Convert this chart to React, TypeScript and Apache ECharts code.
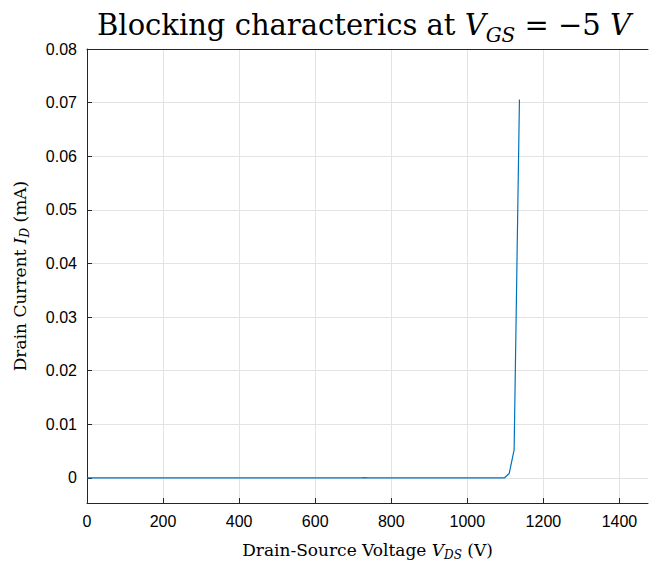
import React, { useEffect, useRef } from "react";
import * as echarts from "echarts";

const vds = [0, 100, 200, 300, 400, 500, 600, 700, 720, 730, 740, 800, 900, 1000, 1098, 1110, 1123, 1137];
const idCurrent = [0, 0, 0, 0, 0, 0, 0, 0, 0, 0.00005, 0, 0, 0, 0, 0, 0.0008, 0.0052, 0.0706];
const xTicks = [0, 200, 400, 600, 800, 1000, 1200, 1400];
const yTicks = [0, 0.01, 0.02, 0.03, 0.04, 0.05, 0.06, 0.07, 0.08];

const serif = "'DejaVu Serif', 'Liberation Serif', serif";
const sans = "'Liberation Sans', Arial, sans-serif";

export default function App() {
  const ref = useRef<HTMLDivElement>(null);
  useEffect(() => {
    if (!ref.current) return;
    const chart = echarts.init(ref.current, null, { renderer: "svg" });
    chart.setOption({
      animation: false,
      backgroundColor: "#ffffff",
      title: {
        text: "Blocking characterics at {i|V}{sub|GS}{n| = −5 }{i|V}",
        left: 359,
        textAlign: "center",
        top: 0,
        textStyle: {
          fontFamily: serif,
          fontSize: 29,
          fontWeight: "normal",
          color: "#000",
          lineHeight: 40,
          rich: {
            i: { fontFamily: serif, fontSize: 29, fontStyle: "italic", color: "#000", lineHeight: 40 },
            sub: { fontFamily: serif, fontSize: 20, fontStyle: "italic", color: "#000", verticalAlign: "bottom", lineHeight: 40 },
            n: { fontFamily: serif, fontSize: 29, color: "#000", lineHeight: 40 },
          },
        },
      },
      grid: { left: 87, right: 1, top: 49, bottom: 60, containLabel: false, outerBoundsMode: "none" },
      xAxis: [
        {
          type: "value",
          min: 0,
          max: 1475,
          axisLine: { show: true, onZero: false, lineStyle: { color: "#262626", width: 1 } },
          axisTick: { show: true, inside: true, length: 5, lineStyle: { color: "#262626" }, customValues: xTicks },
          axisLabel: {
            fontFamily: sans,
            fontSize: 16,
            color: "#000",
            margin: 10,
            customValues: xTicks,
            formatter: (v: number) => String(v),
          },
          splitLine: { show: true, lineStyle: { color: "#e3e3e3", width: 1 } },
          name: "Drain-Source Voltage {i|V}{sub|DS} (V)",
          nameLocation: "middle",
          nameGap: 36,
          nameTextStyle: {
            fontFamily: serif,
            fontSize: 17,
            color: "#000",
            lineHeight: 22,
            rich: {
              i: { fontFamily: serif, fontSize: 17, fontStyle: "italic", color: "#000", lineHeight: 22 },
              sub: { fontFamily: serif, fontSize: 12, fontStyle: "italic", color: "#000", verticalAlign: "bottom", lineHeight: 22 },
            },
          },
        },
        {
          type: "value",
          position: "top",
          min: 0,
          max: 1475,
          axisLine: { show: true, onZero: false, lineStyle: { color: "#262626", width: 1 } },
          axisTick: { show: false },
          axisLabel: { show: false },
          splitLine: { show: false },
        },
      ],
      yAxis: {
        type: "value",
        min: -0.0047,
        max: 0.08,
        axisLine: { show: true, onZero: false, lineStyle: { color: "#262626", width: 1 } },
        axisTick: { show: true, inside: true, length: 5, lineStyle: { color: "#262626" }, customValues: yTicks },
        axisLabel: {
          fontFamily: sans,
          fontSize: 16,
          color: "#000",
          margin: 10,
          customValues: yTicks,
          formatter: (v: number) => (Math.abs(v) < 1e-9 ? "0" : v.toFixed(2)),
        },
        splitLine: { show: true, lineStyle: { color: "#e3e3e3", width: 1 } },
        name: "Drain Current {i|I}{sub|D} (mA)",
        nameLocation: "middle",
        nameGap: 56,
        nameRotate: 90,
        nameTextStyle: {
          fontFamily: serif,
          fontSize: 17,
          color: "#000",
          lineHeight: 22,
          rich: {
            i: { fontFamily: serif, fontSize: 17, fontStyle: "italic", color: "#000", lineHeight: 22 },
            sub: { fontFamily: serif, fontSize: 12, fontStyle: "italic", color: "#000", verticalAlign: "bottom", lineHeight: 22 },
          },
        },
      },
      series: [
        {
          type: "line",
          data: vds.map((x, k) => [x, idCurrent[k]]),
          showSymbol: false,
          symbol: "none",
          lineStyle: { color: "#0072BD", width: 1.2 },
          clip: true,
        },
      ],
    });
    return () => chart.dispose();
  }, []);
  return <div ref={ref} style={{ width: 649, height: 563, position: "absolute", left: 0, top: 0 }} />;
}
